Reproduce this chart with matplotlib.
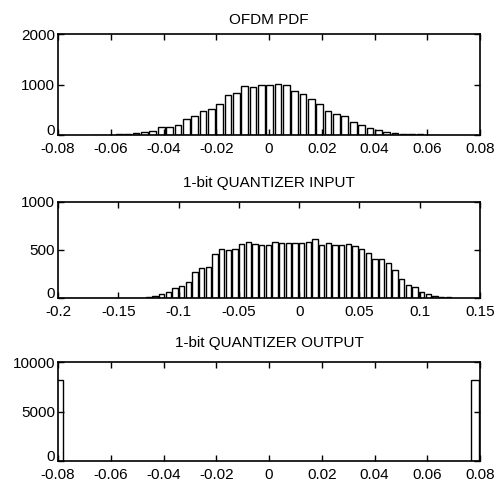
import numpy as np
import matplotlib.pyplot as plt

plt.rcParams['font.family'] = ['Liberation Sans', 'DejaVu Sans']
plt.rcParams['font.size'] = 11

# OFDM PDF histogram (bin grid + counts)
pdf_start = -0.0662
pdf_width = 0.003165
pdf_counts = [10, 0, 10, 15, 20, 35, 60, 90, 160, 165,
              190, 310, 370, 470, 520, 620, 790, 840, 970, 950,
              1000, 1000, 1010, 1000, 880, 820, 720, 610, 480, 420,
              370, 250, 200, 150, 100, 60, 40, 25, 15, 12,
              8, 3]

# 1-bit quantizer input histogram
qin_start = -0.1970
qin_width = 0.00553
qin_counts = [4, 3, 4, 3, 3, 4, 0, 0, 0, 0, 0, 0,
              5, 10,
              20, 40, 65, 100, 130, 170, 275, 310, 320, 455,
              505, 500, 510, 560, 580, 560, 555, 555, 580, 570,
              575, 575, 570, 585, 610, 550, 575, 550, 550, 560,
              540, 505, 470, 410, 405, 360, 290, 200, 135, 110,
              60, 40, 20, 10, 7]

# 1-bit quantizer output histogram
qout_centers = [-0.0798, 0.07815]
qout_width = 0.0033
qout_counts = [8200, 8150]

pdf_x = pdf_start + pdf_width * np.arange(len(pdf_counts))
qin_x = qin_start + qin_width * np.arange(len(qin_counts))

fig = plt.figure(figsize=(5.0, 4.93), dpi=100)
ax1 = fig.add_axes([0.116, 0.726, 0.844, 0.205])
ax2 = fig.add_axes([0.116, 0.3955, 0.844, 0.195])
ax3 = fig.add_axes([0.116, 0.0649, 0.844, 0.2008])

bar_kw = dict(color='white', edgecolor='black', linewidth=1.0)

ax1.bar(pdf_x, pdf_counts, width=pdf_width * 0.8, **bar_kw)
ax1.set_xlim(-0.08, 0.08)
ax1.set_ylim(0, 2000)
ax1.set_xticks(np.arange(-0.08, 0.081, 0.02))
ax1.set_xticklabels(['-0.08', '-0.06', '-0.04', '-0.02', '0', '0.02', '0.04', '0.06', '0.08'])
ax1.set_yticks([0, 1000, 2000])
ax1.set_title('OFDM PDF', pad=7, fontsize=11)

ax2.bar(qin_x, qin_counts, width=qin_width * 0.8, **bar_kw)
ax2.set_xlim(-0.2, 0.15)
ax2.set_ylim(0, 1000)
ax2.set_xticks(np.arange(-0.2, 0.151, 0.05))
ax2.set_xticklabels(['-0.2', '-0.15', '-0.1', '-0.05', '0', '0.05', '0.1', '0.15'])
ax2.set_yticks([0, 500, 1000])
ax2.set_title('1-bit QUANTIZER INPUT', pad=11, fontsize=11)

ax3.bar(qout_centers, qout_counts, width=qout_width, **bar_kw)
ax3.set_xlim(-0.08, 0.08)
ax3.set_ylim(0, 10000)
ax3.set_xticks(np.arange(-0.08, 0.081, 0.02))
ax3.set_xticklabels(['-0.08', '-0.06', '-0.04', '-0.02', '0', '0.02', '0.04', '0.06', '0.08'])
ax3.set_yticks([0, 5000, 10000])
ax3.set_title('1-bit QUANTIZER OUTPUT', pad=11, fontsize=11)

for ax in (ax1, ax2, ax3):
    ax.tick_params(direction='in', top=True, right=True, length=4, width=1)
    ax.tick_params(axis='x', pad=5)
    ax.tick_params(axis='y', pad=2)
    for s in ax.spines.values():
        s.set_linewidth(1.2)
    # the "0" sits on the baseline so it clears the first x label
    ax.get_yticklabels()[0].set_verticalalignment('baseline')

fig.savefig('out.png', dpi=100)
